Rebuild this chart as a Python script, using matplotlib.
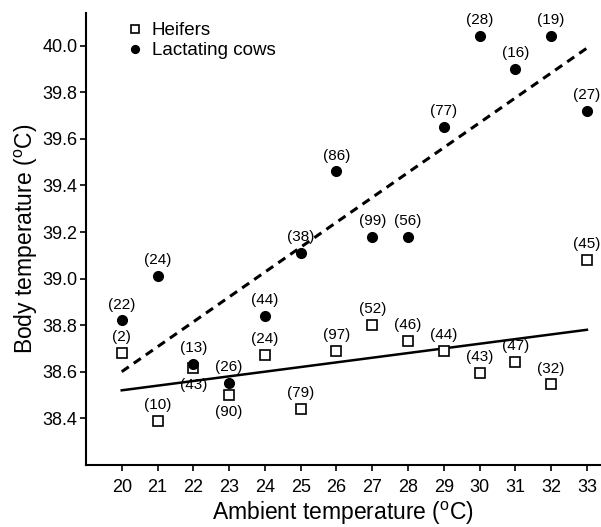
import numpy as np
import matplotlib
matplotlib.use("Agg")
import matplotlib.pyplot as plt

plt.rcParams['font.family'] = ['Liberation Sans', 'DejaVu Sans']
plt.rcParams['mathtext.fontset'] = 'custom'
plt.rcParams['mathtext.rm'] = 'Liberation Sans'

# ambient temperature (oC)
temps = [20, 21, 22, 23, 24, 25, 26, 27, 28, 29, 30, 31, 32, 33]

# heifers: body temperature and number of observations
heifer_temp = [38.68, 38.39, 38.615, 38.50, 38.67, 38.44, 38.69, 38.80, 38.73, 38.69, 38.595, 38.64, 38.545, 39.08]
heifer_n = [2, 10, 43, 90, 24, 79, 97, 52, 46, 44, 43, 47, 32, 45]

# lactating cows
cow_temp = [38.82, 39.01, 38.635, 38.55, 38.84, 39.11, 39.46, 39.18, 39.18, 39.65, 40.04, 39.90, 40.04, 39.72]
cow_n = [22, 24, 13, 26, 44, 38, 86, 99, 56, 77, 28, 16, 19, 27]

# regression lines (end points)
fit_x = [20, 33]
heifer_fit = [38.52, 38.78]
cow_fit = [38.60, 39.99]

# labels drawn below the marker instead of above
below = {("h", 22), ("h", 23)}

fig = plt.figure(figsize=(6.01, 5.27), dpi=100)
ax = fig.add_axes([0.143, 0.118, 0.855, 0.857])

ax.plot(fit_x, cow_fit, color="black", lw=2.2, ls=(0, (2.8, 2.0)))
ax.plot(fit_x, heifer_fit, color="black", lw=1.8)

ax.plot(temps, heifer_temp, ls="none", marker="s", ms=7, mfc="white", mec="black", mew=1.2,
        label="Heifers")
ax.plot(temps, cow_temp, ls="none", marker="o", ms=7, mfc="black", mec="black",
        label="Lactating cows")

for t, v, n in zip(temps, heifer_temp, heifer_n):
    dy = -12 if ("h", t) in below else 11.5
    ax.annotate("(%d)" % n, (t, v), xytext=(0, dy), textcoords="offset points",
                ha="center", va="center", fontsize=11)
for t, v, n in zip(temps, cow_temp, cow_n):
    ax.annotate("(%d)" % n, (t, v), xytext=(0, 11.5), textcoords="offset points",
                ha="center", va="center", fontsize=11)

ax.set_xlim(19.0, 33.36)
ax.set_ylim(38.2, 40.14)
ax.set_xticks(temps)
ax.set_yticks([38.4, 38.6, 38.8, 39.0, 39.2, 39.4, 39.6, 39.8, 40.0])
ax.yaxis.set_major_formatter(matplotlib.ticker.FormatStrFormatter("%.1f"))
ax.tick_params(direction="out", length=4, width=1.2, labelsize=13)
ax.tick_params(axis="x", pad=6)
ax.tick_params(axis="y", pad=2)
ax.spines["top"].set_visible(False)
ax.spines["right"].set_visible(False)
ax.spines["left"].set_linewidth(1.5)
ax.spines["bottom"].set_linewidth(1.5)

ax.set_xlabel(r"Ambient temperature ($^\mathrm{o}$C)", fontsize=16.5, labelpad=3)
ax.set_ylabel(r"Body temperature ($^\mathrm{o}$C)", fontsize=16.5, labelpad=2)

ax.legend(loc="upper left", bbox_to_anchor=(0.055, 1.005), frameon=False, fontsize=13.5,
          handletextpad=0.4, borderaxespad=0.2, labelspacing=0.15, handlelength=1.0,
          markerscale=0.8)

fig.savefig("out.png", dpi=100)
